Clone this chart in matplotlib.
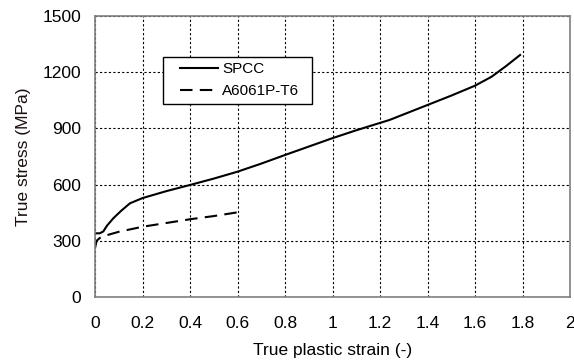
import matplotlib.pyplot as plt
from matplotlib.patches import Rectangle

plt.rcParams['font.family'] = ['Liberation Sans', 'DejaVu Sans']

# SPCC true stress-strain curve
spcc_strain = [0.0, 0.02, 0.035, 0.05, 0.077, 0.11, 0.147, 0.2, 0.3, 0.4, 0.5, 0.6,
               0.7, 0.8, 0.9, 1.0, 1.1, 1.24, 1.4, 1.5, 1.6, 1.67, 1.73, 1.79]
spcc_stress = [340, 340, 350, 380, 420, 460, 500, 528, 565, 598, 632, 669,
               712, 758, 803, 848, 890, 945, 1025, 1075, 1128, 1176, 1232, 1292]

# A6061P-T6 true stress-strain curve
al_strain = [0.0, 0.007, 0.02, 0.05, 0.1, 0.2, 0.3, 0.4, 0.5, 0.6]
al_stress = [262, 300, 315, 330, 348, 375, 395, 415, 432, 452]

x_ticks = [0, 0.2, 0.4, 0.6, 0.8, 1, 1.2, 1.4, 1.6, 1.8, 2]
x_tick_labels = ['0', '0.2', '0.4', '0.6', '0.8', '1', '1.2', '1.4', '1.6', '1.8', '2']
y_ticks = [0, 300, 600, 900, 1200, 1500]

W, H = 574, 360
fig = plt.figure(figsize=(W / 100, H / 100), dpi=100)
ax = fig.add_axes([95/W, 63/H, 475/W, 281/H])

ax.plot(spcc_strain, spcc_stress, color='black', linewidth=1.5, label='SPCC')
ax.plot(al_strain, al_stress, color='black', linewidth=1.5, linestyle=(0, (6, 3.5)),
        label='A6061P-T6')

ax.set_xlim(0, 2)
ax.set_ylim(0, 1500)
ax.set_xticks(x_ticks)
ax.set_xticklabels(x_tick_labels)
ax.set_yticks(y_ticks)
ax.tick_params(axis='x', length=0, labelsize=12.5, pad=14)
ax.tick_params(axis='y', length=0, labelsize=12.5, pad=10)

ax.grid(True, color='black', linestyle=(0, (2, 2)), linewidth=0.8)
for s in ax.spines.values():
    s.set_color('#808080')
    s.set_linewidth(1.2)

ax.set_xlabel('True plastic strain (-)', fontsize=12.5, labelpad=8)
ax.set_ylabel('True stress (MPa)', fontsize=12.5, labelpad=8, color='#1a1010')

# legend box drawn separately so the padding can follow the picture
box = Rectangle((163/W, 1 - 104/H), 149/W, 47/H, transform=fig.transFigure,
                facecolor='white', edgecolor='black', linewidth=1.0,
                zorder=5, clip_on=False)
ax.add_patch(box)
leg = ax.legend(loc='upper left', bbox_to_anchor=(180/W, 1 - 62/H),
                bbox_transform=fig.transFigure, fontsize=11, frameon=False,
                handlelength=2.5, handletextpad=0.25, borderpad=0,
                labelspacing=0.55, borderaxespad=0)
leg.set_zorder(6)

plt.savefig('out.png', dpi=100)
